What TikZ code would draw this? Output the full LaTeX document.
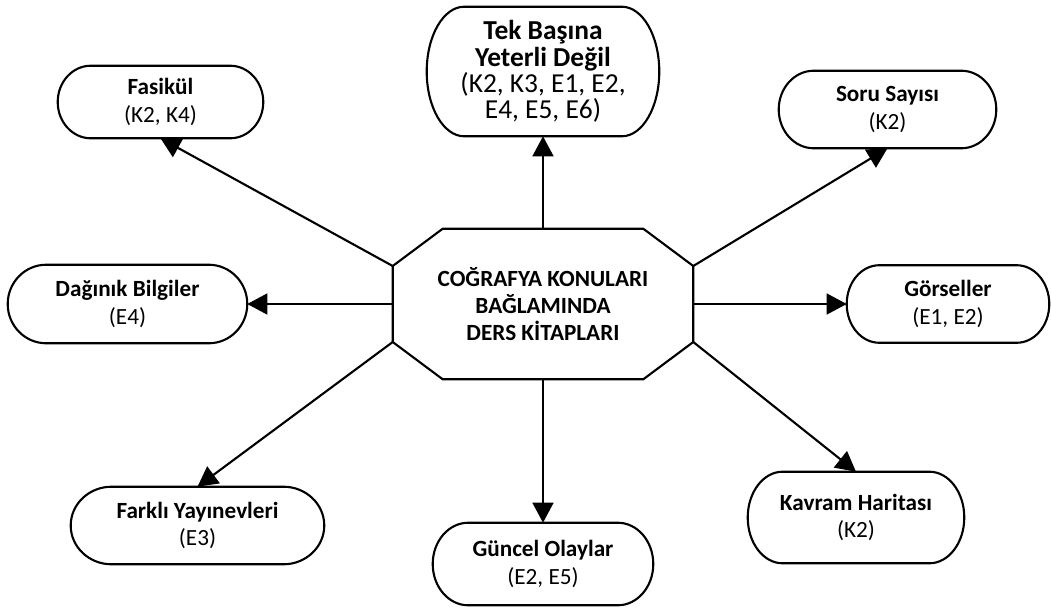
\documentclass[tikz,border=0pt]{standalone}
\usepackage{fontspec}
\setmainfont{Carlito}
\usetikzlibrary{arrows.meta,calc}

\begin{document}
\begin{tikzpicture}[>={Triangle[length=0.5cm,width=0.52cm]},
  every node/.style={font=\fontsize{16.5}{19.3}\selectfont, align=center, inner sep=0pt},
  edge/.style={line width=1.5pt},
  term/.style={minimum width=#1}]
\useasboundingbox (-13.575,7.6) rectangle (12.7,-7.575);

\node[minimum width=7.5cm, minimum height=3.75cm] (cen) at (0,0)
  {\textbf{COĞRAFYA KONULARI}\\\textbf{BAĞLAMINDA}\\\textbf{DERS KİTAPLARI}};
\coordinate (cnw) at ([yshift=0.95cm]cen.west);
\coordinate (csw) at ([yshift=-0.95cm]cen.west);
\coordinate (cne) at ([yshift=0.95cm]cen.east);
\coordinate (cse) at ([yshift=-0.95cm]cen.east);
\draw[edge] (cnw) -- ([xshift=1.25cm]cen.north west) -- ([xshift=-1.25cm]cen.north east)
  -- (cne) -- (cse) -- ([xshift=-1.25cm]cen.south east) -- ([xshift=1.25cm]cen.south west)
  -- (csw) -- cycle;

\node[term=5.8cm, minimum height=3.225cm, font=\fontsize{19.5}{18.6}\selectfont] (tek) at (0,5.8125)
  {\textbf{Tek Başına}\\\textbf{Yeterli Değil}\\(K2, K3, E1, E2,\\E4, E5, E6)};
\node[term=5.125cm, minimum height=1.8cm] (fas) at (-9.5625,5.05)
  {\textbf{Fasikül}\\(K2, K4)};
\node[term=5.425cm, minimum height=1.925cm] (soru) at (8.6125,4.8625)
  {\textbf{Soru Sayısı}\\(K2)};
\node[term=5.05cm, minimum height=1.925cm] (gor) at (10.125,0)
  {\textbf{Görseller}\\(E1, E2)};
\node[term=5.975cm, minimum height=1.95cm] (dag) at (-10.3875,0)
  {\textbf{Dağınık Bilgiler}\\(E4)};
\node[term=5.4cm, minimum height=2.275cm] (kav) at (7.825,-5.3375)
  {\textbf{Kavram Haritası}\\(K2)};
\node[term=5.5cm, minimum height=2.05cm] (gun) at (0,-6.5)
  {\textbf{Güncel Olaylar}\\(E2, E5)};
\node[term=6.325cm, minimum height=1.925cm] (far) at (-8.6375,-5.5375)
  {\textbf{Farklı Yayınevleri}\\(E3)};

\foreach \nm in {tek,fas,soru,gor,dag,kav,gun,far}
  \draw[edge] let \p1=(\nm.north east), \p2=(\nm.south west),
    \n1={0.161*(\x1-\x2)}, \n2={(\y1-\y2)/2} in
    (\x2+\n1,\y1) -- (\x1-\n1,\y1)
    arc[start angle=90, end angle=-90, x radius={\n1*1pt}, y radius={\n2*1pt}]
    -- (\x2+\n1,\y2)
    arc[start angle=270, end angle=90, x radius={\n1*1pt}, y radius={\n2*1pt}] -- cycle;

\draw[edge,->] (cen.north) -- (tek.south);
\draw[edge,->] (cnw) -- (fas.south);
\draw[edge,->] (cne) -- (soru.south);
\draw[edge,->] (cen.east) -- (gor.west);
\draw[edge,->] (cen.west) -- (dag.east);
\draw[edge,->] (cse) -- (kav.north);
\draw[edge,->] (cen.south) -- (gun.north);
\draw[edge,->] (csw) -- (far.north);
\end{tikzpicture}
\end{document}
